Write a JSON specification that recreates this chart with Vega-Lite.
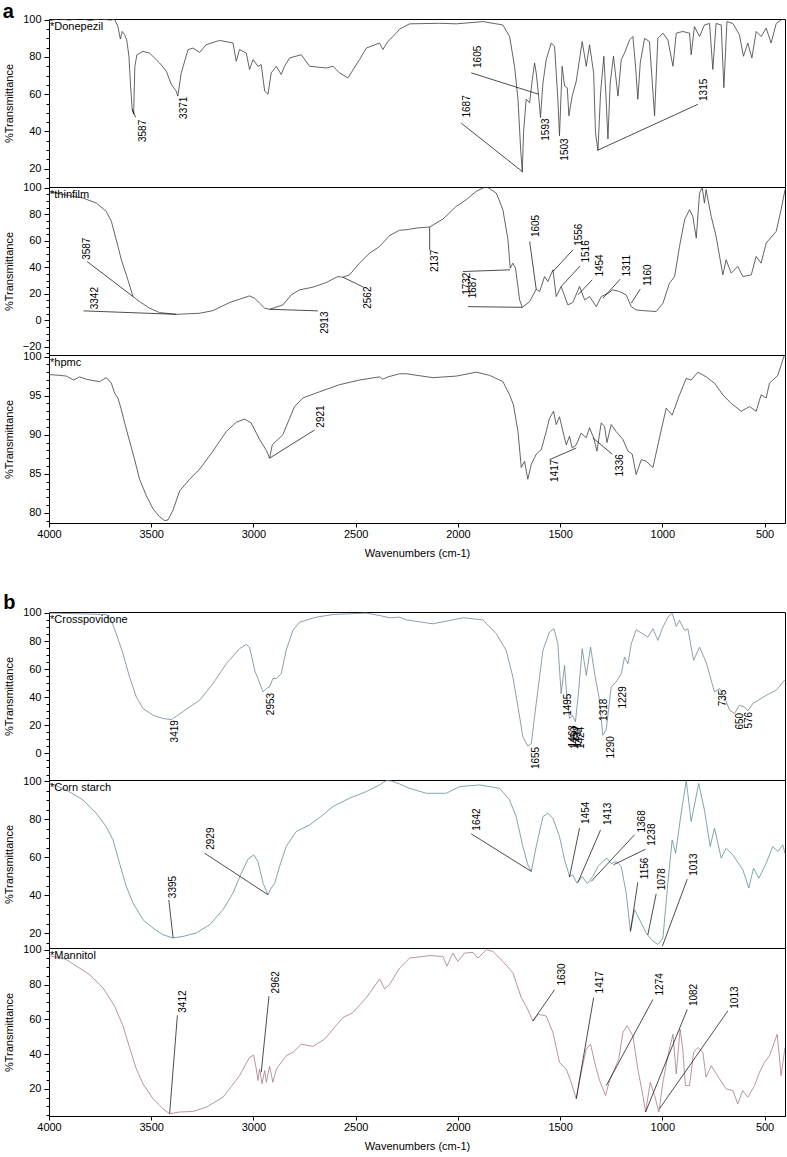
{
"$schema": "https://vega.github.io/schema/vega-lite/v6.json",
"background": "white",
"padding": {"left": 2, "top": 2, "right": 1, "bottom": 0},
"config": {
  "view": {"stroke": "black", "strokeWidth": 1},
  "font": "Liberation Sans",
  "axis": {"labelFont": "Liberation Sans", "labelFontSize": 11, "titleFont": "Liberation Sans", "titleFontSize": 11, "titleFontWeight": "normal", "grid": false, "tickColor": "black", "domainColor": "black", "labelColor": "black", "titleColor": "black", "tickSize": 5, "labelPadding": 3, "labelOverlap": false, "labelFlush": false},
  "axisY": {"titlePadding": 8},
  "axisX": {"titlePadding": 8, "format": "d", "tickSize": 4, "labelPadding": 1}
},
"datasets": {
"sp": [
{"s":"D","w":4000,"t":99.5},{"s":"D","w":3950,"t":100.5},{"s":"D","w":3900,"t":99.8},{"s":"D","w":3850,"t":100.8},{"s":"D","w":3800,"t":99.6},{"s":"D","w":3750,"t":100.5},{"s":"D","w":3700,"t":99.8},{"s":"D","w":3680,"t":100.2},{"s":"D","w":3663,"t":96.5},{"s":"D","w":3651,"t":89.6},{"s":"D","w":3642,"t":93.7},{"s":"D","w":3630,"t":91.9},{"s":"D","w":3620,"t":89.2},{"s":"D","w":3609,"t":80.4},{"s":"D","w":3601,"t":64.4},{"s":"D","w":3593,"t":52},{"s":"D","w":3586,"t":49.3},{"s":"D","w":3580,"t":75},{"s":"D","w":3570,"t":81.2},{"s":"D","w":3540,"t":83},{"s":"D","w":3508,"t":82.1},{"s":"D","w":3459,"t":76.8},{"s":"D","w":3426,"t":72.4},{"s":"D","w":3402,"t":65.3},{"s":"D","w":3378,"t":61.7},{"s":"D","w":3370,"t":59},{"s":"D","w":3353,"t":71.5},{"s":"D","w":3320,"t":83.9},{"s":"D","w":3296,"t":84.8},{"s":"D","w":3263,"t":82.5},{"s":"D","w":3231,"t":86.6},{"s":"D","w":3166,"t":88.9},{"s":"D","w":3100,"t":87.5},{"s":"D","w":3084,"t":77.7},{"s":"D","w":3068,"t":84},{"s":"D","w":3035,"t":82.1},{"s":"D","w":3019,"t":73.3},{"s":"D","w":3002,"t":78.6},{"s":"D","w":2978,"t":75},{"s":"D","w":2962,"t":75.9},{"s":"D","w":2945,"t":61.7},{"s":"D","w":2929,"t":60},{"s":"D","w":2913,"t":71.5},{"s":"D","w":2888,"t":75},{"s":"D","w":2864,"t":70.6},{"s":"D","w":2848,"t":75},{"s":"D","w":2823,"t":79.5},{"s":"D","w":2766,"t":81.2},{"s":"D","w":2725,"t":75},{"s":"D","w":2644,"t":74.1},{"s":"D","w":2611,"t":75},{"s":"D","w":2595,"t":73.3},{"s":"D","w":2580,"t":71.5},{"s":"D","w":2538,"t":68.8},{"s":"D","w":2481,"t":78.6},{"s":"D","w":2448,"t":84.8},{"s":"D","w":2383,"t":87.5},{"s":"D","w":2367,"t":84},{"s":"D","w":2342,"t":88.4},{"s":"D","w":2300,"t":93},{"s":"D","w":2285,"t":95},{"s":"D","w":2236,"t":97.8},{"s":"D","w":2090,"t":98.1},{"s":"D","w":2008,"t":97.8},{"s":"D","w":1878,"t":99},{"s":"D","w":1780,"t":97.2},{"s":"D","w":1747,"t":91},{"s":"D","w":1723,"t":75},{"s":"D","w":1706,"t":57.3},{"s":"D","w":1693,"t":30.6},{"s":"D","w":1685,"t":18.2},{"s":"D","w":1679,"t":39.5},{"s":"D","w":1666,"t":57.3},{"s":"D","w":1649,"t":55.5},{"s":"D","w":1638,"t":66},{"s":"D","w":1625,"t":76.8},{"s":"D","w":1617,"t":71.5},{"s":"D","w":1605,"t":59},{"s":"D","w":1596,"t":47.5},{"s":"D","w":1584,"t":66},{"s":"D","w":1568,"t":78.6},{"s":"D","w":1543,"t":87.5},{"s":"D","w":1527,"t":85.7},{"s":"D","w":1511,"t":57.3},{"s":"D","w":1503,"t":37.7},{"s":"D","w":1490,"t":75},{"s":"D","w":1478,"t":64.4},{"s":"D","w":1465,"t":63.5},{"s":"D","w":1457,"t":48.4},{"s":"D","w":1441,"t":59},{"s":"D","w":1421,"t":67},{"s":"D","w":1392,"t":88.3},{"s":"D","w":1372,"t":75},{"s":"D","w":1356,"t":86.6},{"s":"D","w":1336,"t":71.5},{"s":"D","w":1327,"t":39.5},{"s":"D","w":1315,"t":29.7},{"s":"D","w":1302,"t":60.8},{"s":"D","w":1286,"t":80.4},{"s":"D","w":1275,"t":57.3},{"s":"D","w":1266,"t":36},{"s":"D","w":1255,"t":66},{"s":"D","w":1239,"t":80.4},{"s":"D","w":1217,"t":59},{"s":"D","w":1201,"t":78.6},{"s":"D","w":1185,"t":82.1},{"s":"D","w":1160,"t":89.2},{"s":"D","w":1144,"t":91},{"s":"D","w":1131,"t":75},{"s":"D","w":1120,"t":57.3},{"s":"D","w":1108,"t":76.8},{"s":"D","w":1087,"t":90},{"s":"D","w":1063,"t":88.3},{"s":"D","w":1038,"t":48.4},{"s":"D","w":1022,"t":90},{"s":"D","w":997,"t":92.8},{"s":"D","w":973,"t":89.2},{"s":"D","w":948,"t":75},{"s":"D","w":932,"t":92.8},{"s":"D","w":900,"t":93.7},{"s":"D","w":867,"t":92.8},{"s":"D","w":859,"t":81.2},{"s":"D","w":843,"t":96.3},{"s":"D","w":818,"t":91},{"s":"D","w":794,"t":97.2},{"s":"D","w":769,"t":98},{"s":"D","w":753,"t":73.3},{"s":"D","w":737,"t":98},{"s":"D","w":712,"t":97.2},{"s":"D","w":699,"t":63.5},{"s":"D","w":684,"t":99},{"s":"D","w":655,"t":98},{"s":"D","w":623,"t":91.9},{"s":"D","w":603,"t":80.4},{"s":"D","w":582,"t":87.5},{"s":"D","w":562,"t":79.5},{"s":"D","w":541,"t":93.7},{"s":"D","w":517,"t":91},{"s":"D","w":492,"t":95.5},{"s":"D","w":468,"t":87.5},{"s":"D","w":443,"t":98},{"s":"D","w":419,"t":99.9},{"s":"D","w":400,"t":100.8},
{"s":"T","w":4000,"t":97},{"s":"T","w":3900,"t":94},{"s":"T","w":3834,"t":92.3},{"s":"T","w":3769,"t":88.5},{"s":"T","w":3720,"t":82.2},{"s":"T","w":3695,"t":74.7},{"s":"T","w":3671,"t":60.8},{"s":"T","w":3646,"t":45.6},{"s":"T","w":3614,"t":30.5},{"s":"T","w":3589,"t":17.9},{"s":"T","w":3557,"t":14.1},{"s":"T","w":3508,"t":9.1},{"s":"T","w":3459,"t":5.8},{"s":"T","w":3377,"t":4.5},{"s":"T","w":3263,"t":5.3},{"s":"T","w":3198,"t":7.3},{"s":"T","w":3117,"t":13.4},{"s":"T","w":3068,"t":15.9},{"s":"T","w":3019,"t":18.4},{"s":"T","w":2994,"t":16.6},{"s":"T","w":2970,"t":12.9},{"s":"T","w":2945,"t":9.1},{"s":"T","w":2921,"t":8.3},{"s":"T","w":2856,"t":11.6},{"s":"T","w":2815,"t":19.2},{"s":"T","w":2774,"t":23},{"s":"T","w":2709,"t":25},{"s":"T","w":2644,"t":28.5},{"s":"T","w":2587,"t":33},{"s":"T","w":2562,"t":32.5},{"s":"T","w":2530,"t":34.3},{"s":"T","w":2481,"t":43.1},{"s":"T","w":2432,"t":50.7},{"s":"T","w":2383,"t":55.7},{"s":"T","w":2334,"t":64},{"s":"T","w":2285,"t":68},{"s":"T","w":2253,"t":68.3},{"s":"T","w":2204,"t":69.6},{"s":"T","w":2138,"t":70.4},{"s":"T","w":2073,"t":76.4},{"s":"T","w":2008,"t":86},{"s":"T","w":1959,"t":91},{"s":"T","w":1910,"t":97.4},{"s":"T","w":1861,"t":101},{"s":"T","w":1812,"t":96},{"s":"T","w":1780,"t":83.5},{"s":"T","w":1755,"t":60.8},{"s":"T","w":1744,"t":39.3},{"s":"T","w":1731,"t":43.1},{"s":"T","w":1718,"t":39.3},{"s":"T","w":1698,"t":15.4},{"s":"T","w":1685,"t":9.8},{"s":"T","w":1649,"t":14.1},{"s":"T","w":1617,"t":23.5},{"s":"T","w":1600,"t":21.7},{"s":"T","w":1576,"t":33},{"s":"T","w":1560,"t":29.3},{"s":"T","w":1535,"t":38.1},{"s":"T","w":1519,"t":17.9},{"s":"T","w":1495,"t":25.5},{"s":"T","w":1462,"t":11.6},{"s":"T","w":1438,"t":13.4},{"s":"T","w":1405,"t":25.5},{"s":"T","w":1380,"t":15.4},{"s":"T","w":1356,"t":17.9},{"s":"T","w":1323,"t":10.3},{"s":"T","w":1299,"t":17.9},{"s":"T","w":1266,"t":20.4},{"s":"T","w":1242,"t":23},{"s":"T","w":1209,"t":21.7},{"s":"T","w":1177,"t":19.2},{"s":"T","w":1152,"t":10.3},{"s":"T","w":1128,"t":7.8},{"s":"T","w":1095,"t":7.3},{"s":"T","w":1030,"t":6.6},{"s":"T","w":997,"t":12.9},{"s":"T","w":965,"t":28},{"s":"T","w":940,"t":33},{"s":"T","w":916,"t":55.7},{"s":"T","w":891,"t":75.9},{"s":"T","w":867,"t":83.5},{"s":"T","w":851,"t":78.4},{"s":"T","w":834,"t":62},{"s":"T","w":818,"t":96},{"s":"T","w":805,"t":100.2},{"s":"T","w":794,"t":88.5},{"s":"T","w":786,"t":98.6},{"s":"T","w":761,"t":78.4},{"s":"T","w":737,"t":63.3},{"s":"T","w":704,"t":34.3},{"s":"T","w":688,"t":45.6},{"s":"T","w":663,"t":35.6},{"s":"T","w":631,"t":40.6},{"s":"T","w":606,"t":33},{"s":"T","w":565,"t":34.3},{"s":"T","w":541,"t":48.2},{"s":"T","w":517,"t":43.1},{"s":"T","w":492,"t":58.3},{"s":"T","w":443,"t":67.1},{"s":"T","w":419,"t":83.5},{"s":"T","w":400,"t":98.6},
{"s":"H","w":4000,"t":97.7},{"s":"H","w":3950,"t":97.6},{"s":"H","w":3915,"t":97.5},{"s":"H","w":3880,"t":97.0},{"s":"H","w":3850,"t":97.4},{"s":"H","w":3817,"t":97.1},{"s":"H","w":3780,"t":96.9},{"s":"H","w":3752,"t":96.8},{"s":"H","w":3720,"t":97.3},{"s":"H","w":3695,"t":96.6},{"s":"H","w":3679,"t":95.3},{"s":"H","w":3663,"t":94.7},{"s":"H","w":3646,"t":93.2},{"s":"H","w":3630,"t":91.5},{"s":"H","w":3606,"t":89.2},{"s":"H","w":3581,"t":86.8},{"s":"H","w":3557,"t":84.3},{"s":"H","w":3524,"t":82.2},{"s":"H","w":3491,"t":80.5},{"s":"H","w":3459,"t":79.5},{"s":"H","w":3434,"t":79},{"s":"H","w":3418,"t":79.1},{"s":"H","w":3394,"t":80.3},{"s":"H","w":3361,"t":82.8},{"s":"H","w":3312,"t":84.3},{"s":"H","w":3263,"t":85.6},{"s":"H","w":3198,"t":87.9},{"s":"H","w":3133,"t":90.4},{"s":"H","w":3084,"t":91.6},{"s":"H","w":3043,"t":92},{"s":"H","w":3011,"t":91.5},{"s":"H","w":2970,"t":89.4},{"s":"H","w":2937,"t":88},{"s":"H","w":2921,"t":87},{"s":"H","w":2908,"t":88.7},{"s":"H","w":2880,"t":89.4},{"s":"H","w":2856,"t":90},{"s":"H","w":2823,"t":92.1},{"s":"H","w":2799,"t":93.6},{"s":"H","w":2758,"t":94.7},{"s":"H","w":2676,"t":95.5},{"s":"H","w":2579,"t":96.4},{"s":"H","w":2481,"t":97},{"s":"H","w":2383,"t":97.4},{"s":"H","w":2367,"t":97.1},{"s":"H","w":2342,"t":97.4},{"s":"H","w":2285,"t":97.8},{"s":"H","w":2253,"t":97.8},{"s":"H","w":2122,"t":97.3},{"s":"H","w":2008,"t":97.5},{"s":"H","w":1910,"t":98},{"s":"H","w":1845,"t":97.6},{"s":"H","w":1780,"t":96.8},{"s":"H","w":1747,"t":95.1},{"s":"H","w":1728,"t":93.8},{"s":"H","w":1706,"t":90.4},{"s":"H","w":1690,"t":85.8},{"s":"H","w":1674,"t":86.6},{"s":"H","w":1658,"t":84.3},{"s":"H","w":1641,"t":86.2},{"s":"H","w":1617,"t":87.5},{"s":"H","w":1592,"t":88.1},{"s":"H","w":1568,"t":90.4},{"s":"H","w":1552,"t":92.1},{"s":"H","w":1532,"t":93},{"s":"H","w":1519,"t":91.3},{"s":"H","w":1503,"t":92.3},{"s":"H","w":1486,"t":90.4},{"s":"H","w":1470,"t":88.7},{"s":"H","w":1454,"t":89.8},{"s":"H","w":1441,"t":88.3},{"s":"H","w":1421,"t":88.7},{"s":"H","w":1397,"t":90.2},{"s":"H","w":1372,"t":89.6},{"s":"H","w":1356,"t":90.9},{"s":"H","w":1336,"t":89.6},{"s":"H","w":1320,"t":87.9},{"s":"H","w":1299,"t":91.5},{"s":"H","w":1283,"t":91.1},{"s":"H","w":1271,"t":89},{"s":"H","w":1250,"t":91.3},{"s":"H","w":1226,"t":90.4},{"s":"H","w":1193,"t":89.4},{"s":"H","w":1168,"t":87.9},{"s":"H","w":1147,"t":87.5},{"s":"H","w":1128,"t":84.9},{"s":"H","w":1103,"t":86.8},{"s":"H","w":1079,"t":86.6},{"s":"H","w":1046,"t":85.8},{"s":"H","w":1014,"t":89.6},{"s":"H","w":981,"t":93.4},{"s":"H","w":952,"t":92.5},{"s":"H","w":916,"t":95.1},{"s":"H","w":883,"t":97.2},{"s":"H","w":859,"t":97},{"s":"H","w":826,"t":98},{"s":"H","w":785,"t":97.4},{"s":"H","w":745,"t":96.6},{"s":"H","w":704,"t":95.1},{"s":"H","w":663,"t":94},{"s":"H","w":614,"t":93},{"s":"H","w":574,"t":93.6},{"s":"H","w":541,"t":93},{"s":"H","w":517,"t":95.1},{"s":"H","w":492,"t":94.7},{"s":"H","w":476,"t":96.6},{"s":"H","w":435,"t":97.6},{"s":"H","w":403,"t":100.2},
{"s":"C","w":4000,"t":99.9},{"s":"C","w":3834,"t":99.4},{"s":"C","w":3720,"t":98.9},{"s":"C","w":3695,"t":94.7},{"s":"C","w":3671,"t":85.2},{"s":"C","w":3638,"t":71},{"s":"C","w":3606,"t":54.4},{"s":"C","w":3573,"t":40.2},{"s":"C","w":3540,"t":32},{"s":"C","w":3491,"t":27.2},{"s":"C","w":3443,"t":24.9},{"s":"C","w":3402,"t":24.1},{"s":"C","w":3370,"t":27.2},{"s":"C","w":3312,"t":33.1},{"s":"C","w":3263,"t":37.9},{"s":"C","w":3198,"t":49.7},{"s":"C","w":3133,"t":63.9},{"s":"C","w":3068,"t":74.6},{"s":"C","w":3035,"t":77.6},{"s":"C","w":3019,"t":75.7},{"s":"C","w":2994,"t":59.2},{"s":"C","w":2978,"t":53.3},{"s":"C","w":2953,"t":43.8},{"s":"C","w":2937,"t":46.2},{"s":"C","w":2921,"t":47.3},{"s":"C","w":2905,"t":53.3},{"s":"C","w":2888,"t":53.3},{"s":"C","w":2864,"t":56.8},{"s":"C","w":2840,"t":73.4},{"s":"C","w":2807,"t":87.6},{"s":"C","w":2774,"t":93.5},{"s":"C","w":2693,"t":97},{"s":"C","w":2611,"t":98.9},{"s":"C","w":2448,"t":99.9},{"s":"C","w":2383,"t":98.2},{"s":"C","w":2334,"t":96.6},{"s":"C","w":2285,"t":97},{"s":"C","w":2253,"t":95.1},{"s":"C","w":2122,"t":92.3},{"s":"C","w":1975,"t":96.6},{"s":"C","w":1878,"t":95.1},{"s":"C","w":1812,"t":85.2},{"s":"C","w":1764,"t":73.4},{"s":"C","w":1731,"t":54.4},{"s":"C","w":1706,"t":33.1},{"s":"C","w":1682,"t":11.8},{"s":"C","w":1658,"t":5.2},{"s":"C","w":1641,"t":7.1},{"s":"C","w":1617,"t":35.5},{"s":"C","w":1584,"t":73.4},{"s":"C","w":1552,"t":86.4},{"s":"C","w":1530,"t":88.8},{"s":"C","w":1511,"t":78.1},{"s":"C","w":1495,"t":42.6},{"s":"C","w":1478,"t":62.7},{"s":"C","w":1467,"t":40.2},{"s":"C","w":1454,"t":24.9},{"s":"C","w":1441,"t":27.2},{"s":"C","w":1425,"t":22.5},{"s":"C","w":1409,"t":45},{"s":"C","w":1392,"t":74.6},{"s":"C","w":1372,"t":55.6},{"s":"C","w":1351,"t":75.7},{"s":"C","w":1331,"t":56.8},{"s":"C","w":1310,"t":40.2},{"s":"C","w":1291,"t":13},{"s":"C","w":1275,"t":16.6},{"s":"C","w":1250,"t":47.3},{"s":"C","w":1226,"t":50.9},{"s":"C","w":1201,"t":56.8},{"s":"C","w":1185,"t":68.6},{"s":"C","w":1168,"t":63.9},{"s":"C","w":1152,"t":78.1},{"s":"C","w":1128,"t":88},{"s":"C","w":1095,"t":85.2},{"s":"C","w":1071,"t":82.8},{"s":"C","w":1046,"t":88.8},{"s":"C","w":1022,"t":80.5},{"s":"C","w":997,"t":89.9},{"s":"C","w":973,"t":97},{"s":"C","w":952,"t":99.9},{"s":"C","w":932,"t":90.4},{"s":"C","w":916,"t":94.7},{"s":"C","w":891,"t":87.6},{"s":"C","w":875,"t":88.8},{"s":"C","w":847,"t":66.3},{"s":"C","w":818,"t":75.7},{"s":"C","w":786,"t":65.1},{"s":"C","w":745,"t":43.8},{"s":"C","w":720,"t":46.2},{"s":"C","w":696,"t":40.2},{"s":"C","w":671,"t":30.8},{"s":"C","w":647,"t":28.4},{"s":"C","w":623,"t":34.3},{"s":"C","w":598,"t":33.1},{"s":"C","w":582,"t":30.3},{"s":"C","w":557,"t":35.5},{"s":"C","w":492,"t":41.4},{"s":"C","w":443,"t":45},{"s":"C","w":400,"t":52.5},
{"s":"S","w":4000,"t":99.3},{"s":"S","w":3915,"t":95.4},{"s":"S","w":3834,"t":90.2},{"s":"S","w":3769,"t":83.2},{"s":"S","w":3720,"t":76.1},{"s":"S","w":3687,"t":69.1},{"s":"S","w":3655,"t":56.8},{"s":"S","w":3622,"t":44.6},{"s":"S","w":3589,"t":35.8},{"s":"S","w":3540,"t":27},{"s":"S","w":3491,"t":22.6},{"s":"S","w":3443,"t":19.1},{"s":"S","w":3394,"t":17.4},{"s":"S","w":3345,"t":18.2},{"s":"S","w":3280,"t":20},{"s":"S","w":3214,"t":24.4},{"s":"S","w":3149,"t":32.3},{"s":"S","w":3100,"t":41.1},{"s":"S","w":3059,"t":51.6},{"s":"S","w":3027,"t":58.9},{"s":"S","w":2999,"t":61.2},{"s":"S","w":2978,"t":57.7},{"s":"S","w":2953,"t":46.3},{"s":"S","w":2929,"t":40.2},{"s":"S","w":2913,"t":43.7},{"s":"S","w":2896,"t":46.3},{"s":"S","w":2872,"t":55.1},{"s":"S","w":2840,"t":65.6},{"s":"S","w":2791,"t":73.5},{"s":"S","w":2725,"t":77},{"s":"S","w":2660,"t":82.3},{"s":"S","w":2611,"t":86.7},{"s":"S","w":2530,"t":91.1},{"s":"S","w":2448,"t":94.6},{"s":"S","w":2383,"t":98.1},{"s":"S","w":2350,"t":100.4},{"s":"S","w":2326,"t":100.2},{"s":"S","w":2285,"t":98.6},{"s":"S","w":2236,"t":96.3},{"s":"S","w":2155,"t":93.7},{"s":"S","w":2057,"t":93.7},{"s":"S","w":1992,"t":97.2},{"s":"S","w":1894,"t":98.1},{"s":"S","w":1796,"t":96.3},{"s":"S","w":1747,"t":90.2},{"s":"S","w":1715,"t":81.4},{"s":"S","w":1682,"t":65.6},{"s":"S","w":1658,"t":56},{"s":"S","w":1641,"t":52.5},{"s":"S","w":1617,"t":65.6},{"s":"S","w":1584,"t":81.4},{"s":"S","w":1560,"t":83.2},{"s":"S","w":1535,"t":80.5},{"s":"S","w":1503,"t":70.9},{"s":"S","w":1478,"t":58.6},{"s":"S","w":1454,"t":49.8},{"s":"S","w":1438,"t":50.7},{"s":"S","w":1418,"t":46.3},{"s":"S","w":1392,"t":49.8},{"s":"S","w":1367,"t":46},{"s":"S","w":1340,"t":49.8},{"s":"S","w":1315,"t":55.1},{"s":"S","w":1291,"t":57.7},{"s":"S","w":1271,"t":59.5},{"s":"S","w":1250,"t":56.5},{"s":"S","w":1226,"t":57.7},{"s":"S","w":1201,"t":55.1},{"s":"S","w":1177,"t":41.1},{"s":"S","w":1156,"t":20.9},{"s":"S","w":1136,"t":32.3},{"s":"S","w":1103,"t":25.3},{"s":"S","w":1079,"t":20},{"s":"S","w":1053,"t":16.5},{"s":"S","w":1022,"t":13.9},{"s":"S","w":997,"t":17.4},{"s":"S","w":973,"t":46.3},{"s":"S","w":952,"t":69.1},{"s":"S","w":935,"t":62.1},{"s":"S","w":908,"t":83.2},{"s":"S","w":883,"t":100.4},{"s":"S","w":859,"t":78.8},{"s":"S","w":822,"t":98.9},{"s":"S","w":794,"t":84.9},{"s":"S","w":766,"t":65.6},{"s":"S","w":745,"t":75.3},{"s":"S","w":712,"t":59.5},{"s":"S","w":688,"t":64.7},{"s":"S","w":655,"t":61.2},{"s":"S","w":606,"t":53.3},{"s":"S","w":577,"t":43.7},{"s":"S","w":554,"t":54.2},{"s":"S","w":528,"t":48.9},{"s":"S","w":492,"t":56.8},{"s":"S","w":460,"t":65.6},{"s":"S","w":435,"t":63},{"s":"S","w":411,"t":66.5},{"s":"S","w":400,"t":62.1},
{"s":"M","w":4000,"t":96.5},{"s":"M","w":3950,"t":95.5},{"s":"M","w":3915,"t":94.3},{"s":"M","w":3801,"t":85.7},{"s":"M","w":3736,"t":78.1},{"s":"M","w":3679,"t":67.6},{"s":"M","w":3638,"t":56.2},{"s":"M","w":3606,"t":43.8},{"s":"M","w":3573,"t":31.4},{"s":"M","w":3540,"t":22.9},{"s":"M","w":3491,"t":14.3},{"s":"M","w":3443,"t":8.6},{"s":"M","w":3410,"t":5.7},{"s":"M","w":3361,"t":6.7},{"s":"M","w":3296,"t":7},{"s":"M","w":3231,"t":9.5},{"s":"M","w":3149,"t":15.2},{"s":"M","w":3068,"t":27.6},{"s":"M","w":3019,"t":38.1},{"s":"M","w":2999,"t":39.4},{"s":"M","w":2986,"t":31.4},{"s":"M","w":2978,"t":24.8},{"s":"M","w":2970,"t":31.4},{"s":"M","w":2958,"t":22.9},{"s":"M","w":2945,"t":30.5},{"s":"M","w":2937,"t":23.8},{"s":"M","w":2921,"t":33},{"s":"M","w":2905,"t":23.8},{"s":"M","w":2888,"t":31.4},{"s":"M","w":2840,"t":39},{"s":"M","w":2807,"t":41},{"s":"M","w":2766,"t":45.7},{"s":"M","w":2709,"t":44.4},{"s":"M","w":2652,"t":48.6},{"s":"M","w":2611,"t":54.3},{"s":"M","w":2562,"t":61},{"s":"M","w":2514,"t":63.8},{"s":"M","w":2448,"t":72.4},{"s":"M","w":2383,"t":83.2},{"s":"M","w":2358,"t":77.5},{"s":"M","w":2334,"t":80},{"s":"M","w":2285,"t":89.5},{"s":"M","w":2236,"t":95.2},{"s":"M","w":2138,"t":96.6},{"s":"M","w":2073,"t":96.2},{"s":"M","w":2054,"t":90.5},{"s":"M","w":2024,"t":98.1},{"s":"M","w":2000,"t":93.3},{"s":"M","w":1967,"t":98.1},{"s":"M","w":1926,"t":98.5},{"s":"M","w":1902,"t":95.2},{"s":"M","w":1861,"t":100},{"s":"M","w":1829,"t":99},{"s":"M","w":1780,"t":93.3},{"s":"M","w":1731,"t":86.7},{"s":"M","w":1690,"t":72.4},{"s":"M","w":1666,"t":67.6},{"s":"M","w":1633,"t":59},{"s":"M","w":1609,"t":62.9},{"s":"M","w":1568,"t":61.9},{"s":"M","w":1535,"t":52.4},{"s":"M","w":1503,"t":35.2},{"s":"M","w":1470,"t":31.4},{"s":"M","w":1446,"t":23.8},{"s":"M","w":1421,"t":14.3},{"s":"M","w":1397,"t":29.5},{"s":"M","w":1372,"t":42.9},{"s":"M","w":1351,"t":45.7},{"s":"M","w":1331,"t":35.2},{"s":"M","w":1307,"t":24.8},{"s":"M","w":1278,"t":16.2},{"s":"M","w":1258,"t":24.8},{"s":"M","w":1234,"t":31.4},{"s":"M","w":1213,"t":37.1},{"s":"M","w":1193,"t":52.4},{"s":"M","w":1173,"t":56.2},{"s":"M","w":1144,"t":50.5},{"s":"M","w":1120,"t":31.4},{"s":"M","w":1098,"t":18.1},{"s":"M","w":1082,"t":6.7},{"s":"M","w":1059,"t":23.8},{"s":"M","w":1038,"t":16.2},{"s":"M","w":1017,"t":6.7},{"s":"M","w":997,"t":23.8},{"s":"M","w":973,"t":39},{"s":"M","w":948,"t":51.4},{"s":"M","w":932,"t":28.6},{"s":"M","w":913,"t":54.3},{"s":"M","w":900,"t":42.9},{"s":"M","w":887,"t":21.9},{"s":"M","w":867,"t":21.9},{"s":"M","w":847,"t":41},{"s":"M","w":826,"t":43.8},{"s":"M","w":802,"t":41},{"s":"M","w":786,"t":26.7},{"s":"M","w":761,"t":33.3},{"s":"M","w":720,"t":25.7},{"s":"M","w":688,"t":20},{"s":"M","w":655,"t":19},{"s":"M","w":631,"t":11.4},{"s":"M","w":607,"t":19},{"s":"M","w":582,"t":15.2},{"s":"M","w":549,"t":21.9},{"s":"M","w":525,"t":29.5},{"s":"M","w":500,"t":35.2},{"s":"M","w":476,"t":39},{"s":"M","w":438,"t":51.4},{"s":"M","w":419,"t":27.6},{"s":"M","w":400,"t":43.8}
],
"ld": [
{"s":"D","x1":1935,"y1":71.5,"x2":1605,"y2":60},{"s":"D","x1":1984,"y1":44.5,"x2":1685,"y2":18.5},{"s":"D","x1":826,"y1":54.6,"x2":1315,"y2":30},{"s":"D","x1":3593,"y1":52,"x2":3576,"y2":47.6},
{"s":"T","x1":3814,"y1":44.4,"x2":3589,"y2":17.9},{"s":"T","x1":3831,"y1":7.1,"x2":3377,"y2":4.5},{"s":"T","x1":2921,"y1":8.3,"x2":2685,"y2":7.1},{"s":"T","x1":2562,"y1":32.5,"x2":2462,"y2":25},{"s":"T","x1":2138,"y1":70.4,"x2":2138,"y2":53.2},{"s":"T","x1":1649,"y1":59.5,"x2":1617,"y2":23.5},{"s":"T","x1":1975,"y1":36.8,"x2":1744,"y2":38.1},{"s":"T","x1":1951,"y1":10.3,"x2":1685,"y2":9.8},{"s":"T","x1":1437,"y1":53.2,"x2":1535,"y2":36.8},{"s":"T","x1":1402,"y1":41,"x2":1495,"y2":25.5},{"s":"T","x1":1343,"y1":30.5,"x2":1413,"y2":19.2},{"s":"T","x1":1206,"y1":31,"x2":1291,"y2":16.6},{"s":"T","x1":1108,"y1":23.5,"x2":1152,"y2":12.9},
{"s":"H","x1":2701,"y1":90.6,"x2":2921,"y2":87},{"s":"H","x1":1552,"y1":86.8,"x2":1421,"y2":88.3},{"s":"H","x1":1340,"y1":89.6,"x2":1245,"y2":87.5},
{"s":"S","x1":3414,"y1":37.5,"x2":3393,"y2":17.4},{"s":"S","x1":3239,"y1":62.1,"x2":2929,"y2":40.2},{"s":"S","x1":1935,"y1":72.3,"x2":1641,"y2":52.5},{"s":"S","x1":1405,"y1":75.3,"x2":1454,"y2":49.5},{"s":"S","x1":1302,"y1":74.4,"x2":1413,"y2":46.7},{"s":"S","x1":1136,"y1":71.8,"x2":1348,"y2":47.2},{"s":"S","x1":1082,"y1":64.2,"x2":1239,"y2":56},{"s":"S","x1":1120,"y1":46.7,"x2":1156,"y2":20.9},{"s":"S","x1":1030,"y1":40.7,"x2":1071,"y2":19},{"s":"S","x1":878,"y1":48.4,"x2":1000,"y2":13},
{"s":"M","x1":3372,"y1":62.3,"x2":3410,"y2":5.7},{"s":"M","x1":2924,"y1":73.3,"x2":2962,"y2":29.5},{"s":"M","x1":1527,"y1":77.1,"x2":1633,"y2":59},{"s":"M","x1":1336,"y1":72.4,"x2":1421,"y2":14.3},{"s":"M","x1":1046,"y1":71.4,"x2":1274,"y2":21.9},{"s":"M","x1":878,"y1":65.7,"x2":1082,"y2":6.7},{"s":"M","x1":680,"y1":64.8,"x2":1014,"y2":8.6}
],
"lb": [
{"s":"D","k":"3587","x":3540,"y":46.3,"d":"dn"},{"s":"D","k":"3371","x":3341,"y":58.7,"d":"dn"},{"s":"D","k":"1605","x":1902,"y":74.1,"d":"up"},{"s":"D","k":"1687","x":1956,"y":47.5,"d":"up"},{"s":"D","k":"1593","x":1568,"y":47,"d":"dn"},{"s":"D","k":"1503","x":1478,"y":36.3,"d":"dn"},{"s":"D","k":"1315","x":794,"y":56.4,"d":"up"},
{"s":"T","k":"3587","x":3814,"y":45.6,"d":"up"},{"s":"T","k":"3342","x":3777,"y":8.3,"d":"up"},{"s":"T","k":"2913","x":2652,"y":6.6,"d":"dn"},{"s":"T","k":"2562","x":2440,"y":25.5,"d":"dn"},{"s":"T","k":"2137","x":2114,"y":53.2,"d":"dn"},{"s":"T","k":"1605","x":1617,"y":62.8,"d":"up"},{"s":"T","k":"1732","x":1956,"y":19.2,"d":"up"},{"s":"T","k":"1687","x":1926,"y":16.6,"d":"up"},{"s":"T","k":"1556","x":1408,"y":56.2,"d":"up"},{"s":"T","k":"1516","x":1372,"y":43.6,"d":"up"},{"s":"T","k":"1454","x":1307,"y":33,"d":"up"},{"s":"T","k":"1311","x":1173,"y":33,"d":"up"},{"s":"T","k":"1160","x":1071,"y":26,"d":"up"},
{"s":"H","k":"2921","x":2668,"y":90.9,"d":"up"},{"s":"H","k":"1417","x":1524,"y":86.8,"d":"dn"},{"s":"H","k":"1336","x":1209,"y":87.5,"d":"dn"},
{"s":"C","k":"3419","x":3386,"y":23.7,"d":"dn"},{"s":"C","k":"2953","x":2913,"y":43.1,"d":"dn"},{"s":"C","k":"1655","x":1617,"y":4.7,"d":"dn"},{"s":"C","k":"1495","x":1459,"y":42.6,"d":"dn"},{"s":"C","k":"1463","x":1437,"y":20.1,"d":"dn"},{"s":"C","k":"1450","x":1426,"y":19,"d":"dn"},{"s":"C","k":"1437","x":1413,"y":20,"d":"dn"},{"s":"C","k":"1424","x":1400,"y":19,"d":"dn"},{"s":"C","k":"1318","x":1283,"y":39,"d":"dn"},{"s":"C","k":"1290","x":1250,"y":12.3,"d":"dn"},{"s":"C","k":"1229","x":1193,"y":47.8,"d":"dn"},{"s":"C","k":"735","x":704,"y":45.4,"d":"dn"},{"s":"C","k":"650","x":618,"y":28.9,"d":"dn"},{"s":"C","k":"576","x":578,"y":29.6,"d":"dn"},
{"s":"S","k":"3395","x":3394,"y":38.4,"d":"up"},{"s":"S","k":"2929","x":3206,"y":63.9,"d":"up"},{"s":"S","k":"1642","x":1907,"y":74,"d":"up"},{"s":"S","k":"1454","x":1372,"y":77.5,"d":"up"},{"s":"S","k":"1413","x":1266,"y":77,"d":"up"},{"s":"S","k":"1368","x":1100,"y":73,"d":"up"},{"s":"S","k":"1238","x":1051,"y":66,"d":"up"},{"s":"S","k":"1156","x":1087,"y":48.4,"d":"up"},{"s":"S","k":"1078","x":1001,"y":42.5,"d":"up"},{"s":"S","k":"1013","x":843,"y":50.2,"d":"up"},
{"s":"M","k":"3412","x":3345,"y":63.8,"d":"up"},{"s":"M","k":"2962","x":2892,"y":74.9,"d":"up"},{"s":"M","k":"1630","x":1490,"y":79.4,"d":"up"},{"s":"M","k":"1417","x":1304,"y":74.9,"d":"up"},{"s":"M","k":"1274","x":1010,"y":73.7,"d":"up"},{"s":"M","k":"1082","x":843,"y":67.6,"d":"up"},{"s":"M","k":"1013","x":647,"y":66.1,"d":"up"}
]
},
"spacing": 34,
"vconcat": [
{
"title": {"text": "a", "anchor": "start", "frame": "bounds", "fontSize": 20, "fontWeight": "bold", "font": "Liberation Sans", "offset": -9, "color": "black"},
"spacing": 0,
"bounds": "flush",
"vconcat": [
{"width": 736, "height": 168, "resolve": {"axis": {"y": "independent"}}, "layer": [
 {"data": {"name": "sp"}, "transform": [{"filter": "datum.s==='D'"}], "mark": {"type": "line", "color": "#3c3c3c", "strokeWidth": 0.8, "clip": true},
  "encoding": {"x": {"field": "w", "type": "quantitative", "scale": {"domain": [400, 4000], "reverse": true, "nice": false, "zero": false}, "axis": null},
   "y": {"field": "t", "type": "quantitative", "scale": {"domain": [10.2, 100.4], "nice": false, "zero": false}, "axis": {"values": [20, 40, 60, 80, 100], "title": "%Transmittance"}}}},
 {"data": {"values": [{}]}, "mark": {"type": "point", "opacity": 0},
  "encoding": {"y": {"datum": 50, "type": "quantitative", "axis": {"orient": "left", "values": [15,25,30,35,45,50,55,65,70,75,85,90,95], "labels": false, "domain": false, "title": null, "tickSize": 3}}}},
 {"data": {"name": "ld"}, "transform": [{"filter": "datum.s==='D'"}], "mark": {"type": "rule", "color": "black", "strokeWidth": 0.7},
  "encoding": {"x": {"field": "x1", "type": "quantitative"}, "y": {"field": "y1", "type": "quantitative", "axis": null}, "x2": {"field": "x2"}, "y2": {"field": "y2"}}},
 {"data": {"name": "lb"}, "transform": [{"filter": "datum.s==='D' && datum.d==='up'"}], "mark": {"type": "text", "angle": 270, "align": "left", "baseline": "middle", "fontSize": 10, "color": "black"},
  "encoding": {"x": {"field": "x", "type": "quantitative"}, "y": {"field": "y", "type": "quantitative", "axis": null}, "text": {"field": "k"}}},
 {"data": {"name": "lb"}, "transform": [{"filter": "datum.s==='D' && datum.d==='dn'"}], "mark": {"type": "text", "angle": 270, "align": "right", "baseline": "middle", "fontSize": 10, "color": "black"},
  "encoding": {"x": {"field": "x", "type": "quantitative"}, "y": {"field": "y", "type": "quantitative", "axis": null}, "text": {"field": "k"}}},
 {"data": {"values": [{}]}, "mark": {"type": "text", "align": "left", "baseline": "top", "fontSize": 11, "dx": 1, "dy": 2, "color": "black"},
  "encoding": {"x": {"datum": 4000}, "y": {"datum": 100.4, "axis": null}, "text": {"value": "*Donepezil"}}}
]},
{"width": 736, "height": 168, "resolve": {"axis": {"y": "independent"}}, "layer": [
 {"data": {"name": "sp"}, "transform": [{"filter": "datum.s==='T'"}], "mark": {"type": "line", "color": "#3c3c3c", "strokeWidth": 0.8, "clip": true},
  "encoding": {"x": {"field": "w", "type": "quantitative", "scale": {"domain": [400, 4000], "reverse": true, "nice": false, "zero": false}, "axis": null},
   "y": {"field": "t", "type": "quantitative", "scale": {"domain": [-26.2, 100.6], "nice": false, "zero": false}, "axis": {"values": [-20, 0, 20, 40, 60, 80, 100], "title": "%Transmittance"}}}},
 {"data": {"values": [{}]}, "mark": {"type": "point", "opacity": 0},
  "encoding": {"y": {"datum": 50, "type": "quantitative", "axis": {"orient": "left", "values": [-25,-15,-10,-5,5,10,15,25,30,35,45,50,55,65,70,75,85,90,95], "labels": false, "domain": false, "title": null, "tickSize": 3}}}},
 {"data": {"name": "ld"}, "transform": [{"filter": "datum.s==='T'"}], "mark": {"type": "rule", "color": "black", "strokeWidth": 0.7},
  "encoding": {"x": {"field": "x1", "type": "quantitative"}, "y": {"field": "y1", "type": "quantitative", "axis": null}, "x2": {"field": "x2"}, "y2": {"field": "y2"}}},
 {"data": {"name": "lb"}, "transform": [{"filter": "datum.s==='T' && datum.d==='up'"}], "mark": {"type": "text", "angle": 270, "align": "left", "baseline": "middle", "fontSize": 10, "color": "black"},
  "encoding": {"x": {"field": "x", "type": "quantitative"}, "y": {"field": "y", "type": "quantitative", "axis": null}, "text": {"field": "k"}}},
 {"data": {"name": "lb"}, "transform": [{"filter": "datum.s==='T' && datum.d==='dn'"}], "mark": {"type": "text", "angle": 270, "align": "right", "baseline": "middle", "fontSize": 10, "color": "black"},
  "encoding": {"x": {"field": "x", "type": "quantitative"}, "y": {"field": "y", "type": "quantitative", "axis": null}, "text": {"field": "k"}}},
 {"data": {"values": [{}]}, "mark": {"type": "text", "align": "left", "baseline": "top", "fontSize": 11, "dx": 1, "dy": 2, "color": "black"},
  "encoding": {"x": {"datum": 4000}, "y": {"datum": 100.6, "axis": null}, "text": {"value": "*thinfilm"}}}
]},
{"width": 736, "height": 168, "resolve": {"axis": {"y": "independent"}}, "layer": [
 {"data": {"name": "sp"}, "transform": [{"filter": "datum.s==='H'"}], "mark": {"type": "line", "color": "#3c3c3c", "strokeWidth": 0.8, "clip": true},
  "encoding": {"x": {"field": "w", "type": "quantitative", "scale": {"domain": [400, 4000], "reverse": true, "nice": false, "zero": false}, "axis": {"values": [4000, 3500, 3000, 2500, 2000, 1500, 1000, 500], "title": "Wavenumbers (cm-1)"}},
   "y": {"field": "t", "type": "quantitative", "scale": {"domain": [78.7, 100.2], "nice": false, "zero": false}, "axis": {"values": [80, 85, 90, 95, 100], "title": "%Transmittance"}}}},
 {"data": {"values": [{}]}, "mark": {"type": "point", "opacity": 0},
  "encoding": {"y": {"datum": 90, "type": "quantitative", "axis": {"orient": "left", "values": [79,81,82,83,84,86,87,88,89,91,92,93,94,96,97,98,99], "labels": false, "domain": false, "title": null, "tickSize": 3}}}},
 {"data": {"name": "ld"}, "transform": [{"filter": "datum.s==='H'"}], "mark": {"type": "rule", "color": "black", "strokeWidth": 0.7},
  "encoding": {"x": {"field": "x1", "type": "quantitative"}, "y": {"field": "y1", "type": "quantitative", "axis": null}, "x2": {"field": "x2"}, "y2": {"field": "y2"}}},
 {"data": {"name": "lb"}, "transform": [{"filter": "datum.s==='H' && datum.d==='up'"}], "mark": {"type": "text", "angle": 270, "align": "left", "baseline": "middle", "fontSize": 10, "color": "black"},
  "encoding": {"x": {"field": "x", "type": "quantitative"}, "y": {"field": "y", "type": "quantitative", "axis": null}, "text": {"field": "k"}}},
 {"data": {"name": "lb"}, "transform": [{"filter": "datum.s==='H' && datum.d==='dn'"}], "mark": {"type": "text", "angle": 270, "align": "right", "baseline": "middle", "fontSize": 10, "color": "black"},
  "encoding": {"x": {"field": "x", "type": "quantitative"}, "y": {"field": "y", "type": "quantitative", "axis": null}, "text": {"field": "k"}}},
 {"data": {"values": [{}]}, "mark": {"type": "text", "align": "left", "baseline": "top", "fontSize": 11, "dx": 1, "dy": 2, "color": "black"},
  "encoding": {"x": {"datum": 4000}, "y": {"datum": 100.2, "axis": null}, "text": {"value": "*hpmc"}}}
]}
]
},
{
"title": {"text": "b", "anchor": "start", "frame": "bounds", "fontSize": 20, "fontWeight": "bold", "font": "Liberation Sans", "offset": -7, "color": "black"},
"spacing": 0,
"bounds": "flush",
"vconcat": [
{"width": 736, "height": 168, "resolve": {"axis": {"y": "independent"}}, "layer": [
 {"data": {"name": "sp"}, "transform": [{"filter": "datum.s==='C'"}], "mark": {"type": "line", "color": "#6f8797", "strokeWidth": 0.8, "clip": true},
  "encoding": {"x": {"field": "w", "type": "quantitative", "scale": {"domain": [400, 4000], "reverse": true, "nice": false, "zero": false}, "axis": null},
   "y": {"field": "t", "type": "quantitative", "scale": {"domain": [-18.9, 100.7], "nice": false, "zero": false}, "axis": {"values": [0, 20, 40, 60, 80, 100], "title": "%Transmittance"}}}},
 {"data": {"values": [{}]}, "mark": {"type": "point", "opacity": 0},
  "encoding": {"y": {"datum": 50, "type": "quantitative", "axis": {"orient": "left", "values": [-15,-10,-5,5,10,15,25,30,35,45,50,55,65,70,75,85,90,95], "labels": false, "domain": false, "title": null, "tickSize": 3}}}},
 {"data": {"name": "lb"}, "transform": [{"filter": "datum.s==='C' && datum.d==='dn'"}], "mark": {"type": "text", "angle": 270, "align": "right", "baseline": "middle", "fontSize": 10, "color": "black"},
  "encoding": {"x": {"field": "x", "type": "quantitative"}, "y": {"field": "y", "type": "quantitative", "axis": null}, "text": {"field": "k"}}},
 {"data": {"values": [{}]}, "mark": {"type": "text", "align": "left", "baseline": "top", "fontSize": 11, "dx": 1, "dy": 2, "color": "black"},
  "encoding": {"x": {"datum": 4000}, "y": {"datum": 100.7, "axis": null}, "text": {"value": "*Crosspovidone"}}}
]},
{"width": 736, "height": 168, "resolve": {"axis": {"y": "independent"}}, "layer": [
 {"data": {"name": "sp"}, "transform": [{"filter": "datum.s==='S'"}], "mark": {"type": "line", "color": "#5f8f98", "strokeWidth": 0.8, "clip": true},
  "encoding": {"x": {"field": "w", "type": "quantitative", "scale": {"domain": [400, 4000], "reverse": true, "nice": false, "zero": false}, "axis": null},
   "y": {"field": "t", "type": "quantitative", "scale": {"domain": [12.1, 100.7], "nice": false, "zero": false}, "axis": {"values": [20, 40, 60, 80, 100], "title": "%Transmittance"}}}},
 {"data": {"values": [{}]}, "mark": {"type": "point", "opacity": 0},
  "encoding": {"y": {"datum": 50, "type": "quantitative", "axis": {"orient": "left", "values": [15,25,30,35,45,50,55,65,70,75,85,90,95], "labels": false, "domain": false, "title": null, "tickSize": 3}}}},
 {"data": {"name": "ld"}, "transform": [{"filter": "datum.s==='S'"}], "mark": {"type": "rule", "color": "black", "strokeWidth": 0.7},
  "encoding": {"x": {"field": "x1", "type": "quantitative"}, "y": {"field": "y1", "type": "quantitative", "axis": null}, "x2": {"field": "x2"}, "y2": {"field": "y2"}}},
 {"data": {"name": "lb"}, "transform": [{"filter": "datum.s==='S' && datum.d==='up'"}], "mark": {"type": "text", "angle": 270, "align": "left", "baseline": "middle", "fontSize": 10, "color": "black"},
  "encoding": {"x": {"field": "x", "type": "quantitative"}, "y": {"field": "y", "type": "quantitative", "axis": null}, "text": {"field": "k"}}},
 {"data": {"values": [{}]}, "mark": {"type": "text", "align": "left", "baseline": "top", "fontSize": 11, "dx": 1, "dy": 2, "color": "black"},
  "encoding": {"x": {"datum": 4000}, "y": {"datum": 100.7, "axis": null}, "text": {"value": "*Corn starch"}}}
]},
{"width": 736, "height": 168, "resolve": {"axis": {"y": "independent"}}, "layer": [
 {"data": {"name": "sp"}, "transform": [{"filter": "datum.s==='M'"}], "mark": {"type": "line", "color": "#a97a86", "strokeWidth": 0.8, "clip": true},
  "encoding": {"x": {"field": "w", "type": "quantitative", "scale": {"domain": [400, 4000], "reverse": true, "nice": false, "zero": false}, "axis": {"values": [4000, 3500, 3000, 2500, 2000, 1500, 1000, 500], "title": "Wavenumbers (cm-1)"}},
   "y": {"field": "t", "type": "quantitative", "scale": {"domain": [4.4, 101], "nice": false, "zero": false}, "axis": {"values": [20, 40, 60, 80, 100], "title": "%Transmittance"}}}},
 {"data": {"values": [{}]}, "mark": {"type": "point", "opacity": 0},
  "encoding": {"y": {"datum": 50, "type": "quantitative", "axis": {"orient": "left", "values": [5,10,15,25,30,35,45,50,55,65,70,75,85,90,95], "labels": false, "domain": false, "title": null, "tickSize": 3}}}},
 {"data": {"name": "ld"}, "transform": [{"filter": "datum.s==='M'"}], "mark": {"type": "rule", "color": "black", "strokeWidth": 0.7},
  "encoding": {"x": {"field": "x1", "type": "quantitative"}, "y": {"field": "y1", "type": "quantitative", "axis": null}, "x2": {"field": "x2"}, "y2": {"field": "y2"}}},
 {"data": {"name": "lb"}, "transform": [{"filter": "datum.s==='M' && datum.d==='up'"}], "mark": {"type": "text", "angle": 270, "align": "left", "baseline": "middle", "fontSize": 10, "color": "black"},
  "encoding": {"x": {"field": "x", "type": "quantitative"}, "y": {"field": "y", "type": "quantitative", "axis": null}, "text": {"field": "k"}}},
 {"data": {"values": [{}]}, "mark": {"type": "text", "align": "left", "baseline": "top", "fontSize": 11, "dx": 1, "dy": 2, "color": "black"},
  "encoding": {"x": {"datum": 4000}, "y": {"datum": 101, "axis": null}, "text": {"value": "*Mannitol"}}}
]}
]
}
]
}
